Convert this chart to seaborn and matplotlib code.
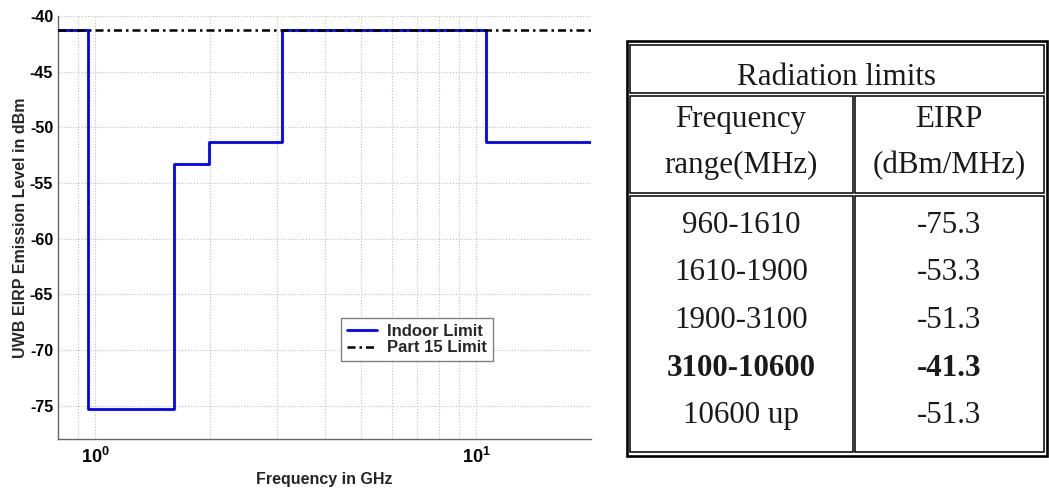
import matplotlib
matplotlib.use("Agg")
import matplotlib.pyplot as plt
from matplotlib.patches import Rectangle
from matplotlib.ticker import FixedLocator, FixedFormatter, LogLocator, NullFormatter
import seaborn as sns
import pandas as pd

# ---------------- data ----------------
step_freq_ghz = [0.8, 0.96, 1.61, 1.99, 3.1, 10.6, 20.0]
indoor_limit_dbm = [-41.3, -75.3, -53.3, -51.3, -41.3, -51.3, -51.3]
part15_freq_ghz = [0.8, 20.0]
part15_limit_dbm = [-41.3, -41.3]

y_ticks = [-75, -70, -65, -60, -55, -50, -45, -40]
y_tick_labels = ["-75", "-70", "-65", "-60", "-55", "-50", "-45", "-40"]
x_ticks = [1, 10]
x_tick_labels = [r"$10^{0}$", r"$10^{1}$"]

x_label = "Frequency in GHz"
y_label = "UWB EIRP Emission Level in dBm"
series_names = ["Indoor Limit", "Part 15 Limit"]

table_title = "Radiation limits"
header_freq = ["Frequency", "range(MHz)"]
header_eirp = ["EIRP", "(dBm/MHz)"]
freq_ranges = ["960-1610", "1610-1900", "1900-3100", "3100-10600", "10600 up"]
eirp_values = ["-75.3", "-53.3", "-51.3", "-41.3", "-51.3"]
bold_rows = [3]

# ---------------- style ----------------
sns.set_style("white")
plt.rcParams["font.family"] = ["Liberation Sans", "DejaVu Sans"]
plt.rcParams["axes.unicode_minus"] = False
plt.rcParams["mathtext.fontset"] = "custom"
plt.rcParams["mathtext.rm"] = "Liberation Sans:bold"
plt.rcParams["mathtext.it"] = "Liberation Sans:bold"
plt.rcParams["mathtext.bf"] = "Liberation Sans:bold"

W, H = 1049, 491
fig = plt.figure(figsize=(W / 100, H / 100), dpi=100)
fig.patch.set_facecolor("white")

# ---------------- chart ----------------
L, R, T, B = 58, 591, 16, 439
ax = fig.add_axes([L / W, 1 - B / H, (R - L) / W, (B - T) / H])

df_indoor = pd.DataFrame({"f": step_freq_ghz, "p": indoor_limit_dbm})
df_p15 = pd.DataFrame({"f": part15_freq_ghz, "p": part15_limit_dbm})

sns.lineplot(data=df_indoor, x="f", y="p", ax=ax, color="#0000ff", lw=2.0,
             drawstyle="steps-post", estimator=None, sort=False,
             label=series_names[0], zorder=3)
sns.lineplot(data=df_p15, x="f", y="p", ax=ax, color="black", lw=1.8,
             estimator=None, sort=False, label=series_names[1], zorder=4,
             dashes=False)
ax.lines[-1].set_dashes([3.2, 1.6, 1.0, 1.6])

ax.set_xscale("log")
ax.set_xlim(0.8, 20)
ax.set_ylim(-78, -40)

ax.yaxis.set_major_locator(FixedLocator(y_ticks))
ax.yaxis.set_major_formatter(FixedFormatter(y_tick_labels))
ax.xaxis.set_major_locator(FixedLocator(x_ticks))
ax.xaxis.set_major_formatter(FixedFormatter(x_tick_labels))
ax.xaxis.set_minor_locator(LogLocator(base=10, subs=range(2, 10)))
ax.xaxis.set_minor_formatter(NullFormatter())

ax.grid(True, which="major", axis="both", linestyle=":", color="#c0c0c0", lw=0.8)
ax.grid(True, which="minor", axis="x", linestyle=":", color="#c0c0c0", lw=0.8)
ax.set_axisbelow(True)

for s in ["top", "right"]:
    ax.spines[s].set_visible(False)
for s in ["left", "bottom"]:
    ax.spines[s].set_color("#666666")
    ax.spines[s].set_linewidth(1.0)

ax.tick_params(axis="y", which="major", direction="in", length=4, width=0.8,
               color="#666666", labelsize=11.5, labelcolor="black", pad=3.5)
ax.tick_params(axis="x", which="major", direction="in", length=4, width=0.8,
               color="#666666", labelsize=13, labelcolor="black", pad=6)
ax.tick_params(axis="x", which="minor", direction="in", length=2.5, width=0.8,
               color="#666666")
for lab in ax.get_yticklabels():
    lab.set_fontweight("bold")

ax.set_xlabel(x_label, fontsize=11.5, fontweight="bold", labelpad=3)
ax.set_ylabel(y_label, fontsize=11.5, fontweight="bold", labelpad=1)

leg = ax.legend(loc="upper left",
                bbox_to_anchor=((341 - L) / (R - L), (B - 318) / (B - T)),
                borderaxespad=0, frameon=True, fancybox=False,
                prop={"weight": "bold", "size": 12},
                handlelength=1.8, handletextpad=0.6, borderpad=0.35,
                labelspacing=0.1)
leg.get_frame().set_edgecolor("#808080")
leg.get_frame().set_linewidth(1.0)
leg.get_frame().set_alpha(1)

# ---------------- table ----------------
tab = fig.add_axes([0, 0, 1, 1])
tab.set_xlim(0, W)
tab.set_ylim(H, 0)
tab.axis("off")
tab.patch.set_alpha(0)

def box(x0, y0, x1, y1, lw):
    tab.add_patch(Rectangle((x0, y0), x1 - x0, y1 - y0, fill=False,
                            edgecolor="black", lw=lw))

box(626.7, 41.0, 1046.7, 455.5, 1.9)
box(629.5, 44.5, 1043.7, 93.0, 1.1)
box(629.5, 95.5, 852.5, 193.0, 1.1)
box(854.8, 95.5, 1043.7, 193.0, 1.1)
box(629.5, 196.0, 852.5, 452.5, 1.1)
box(854.8, 196.0, 1043.7, 452.5, 1.1)

col1 = (629.5 + 852.5) / 2
col2 = (854.8 + 1043.7) / 2
tfont = dict(family=["Liberation Serif", "DejaVu Serif"], size=22.3, color="#1a1a1a")

tab.text((629.5 + 1043.7) / 2, 85, table_title, ha="center", va="baseline", **tfont)
for i, (a, b) in enumerate(zip(header_freq, header_eirp)):
    yb = 127 + i * 46
    tab.text(col1, yb, a, ha="center", va="baseline", **tfont)
    tab.text(col2, yb, b, ha="center", va="baseline", **tfont)

for i, (fr, ev) in enumerate(zip(freq_ranges, eirp_values)):
    yb = 233 + i * 47.5
    w = "bold" if i in bold_rows else "normal"
    tab.text(col1, yb, fr, ha="center", va="baseline", fontweight=w, **tfont)
    tab.text(col2, yb, ev, ha="center", va="baseline", fontweight=w, **tfont)

fig.savefig("out.png", dpi=100, facecolor="white")
